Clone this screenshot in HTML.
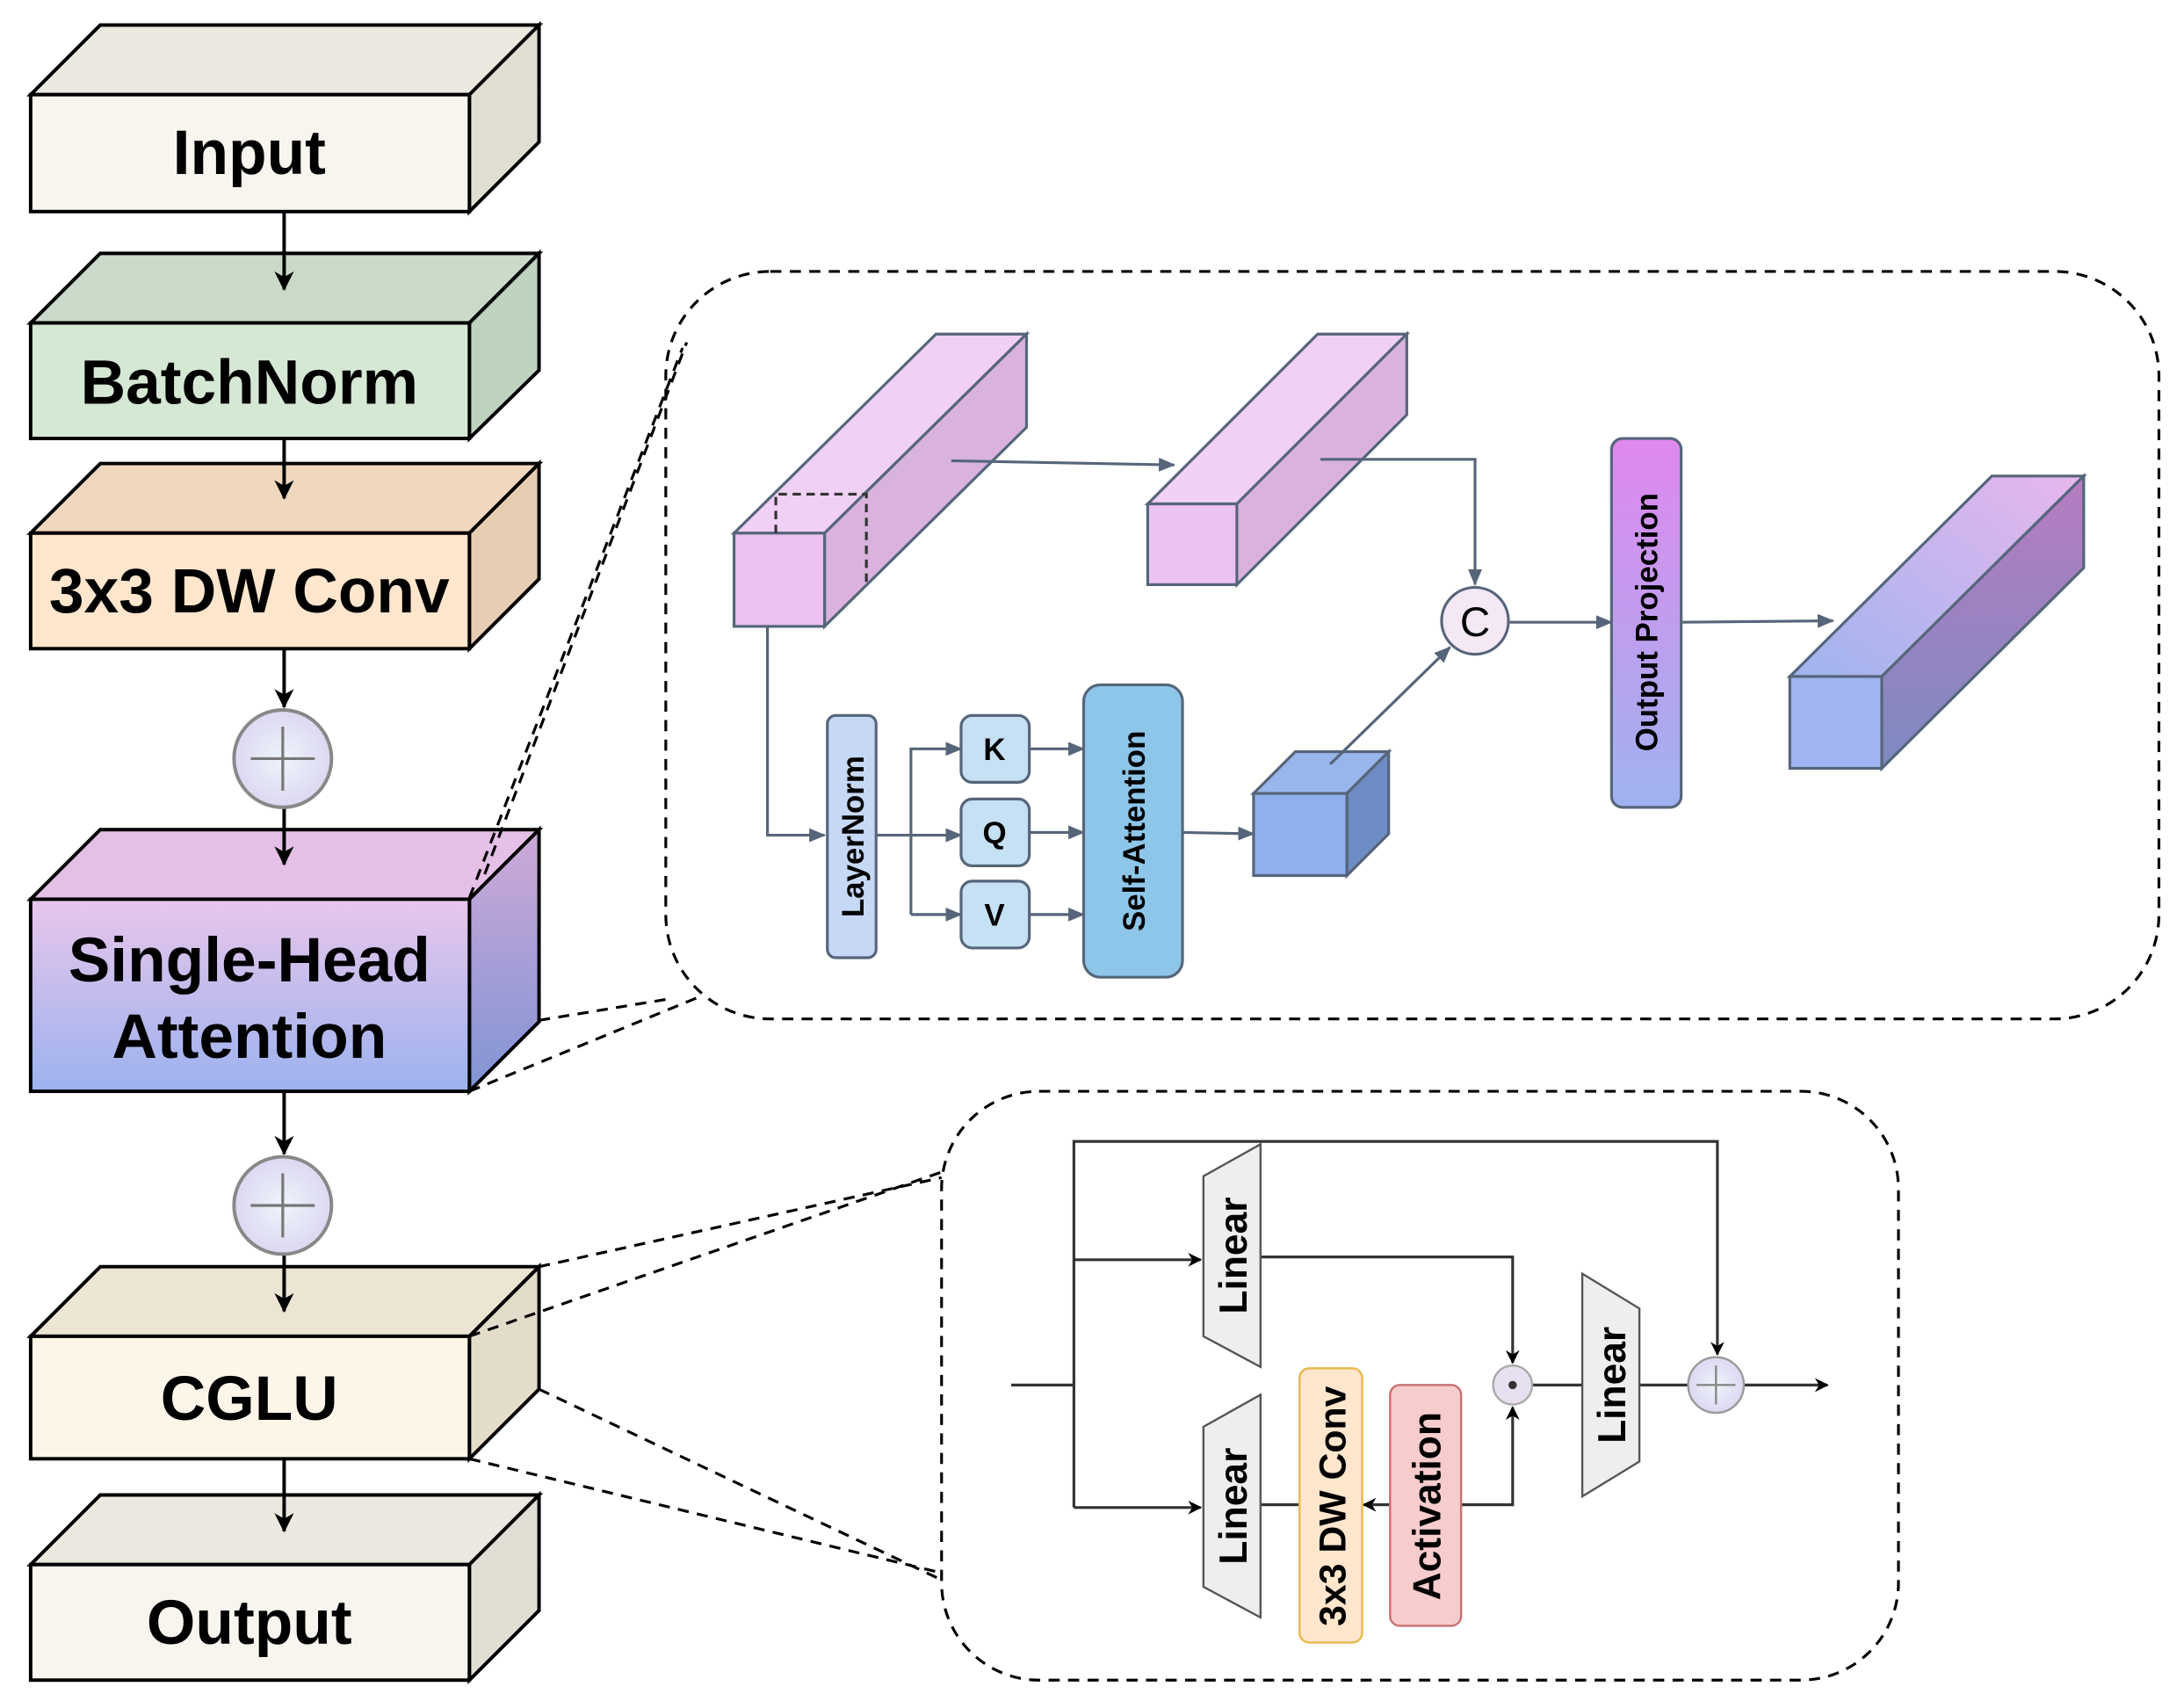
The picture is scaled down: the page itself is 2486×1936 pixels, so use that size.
<!DOCTYPE html>
<html><head><meta charset="utf-8"><style>html,body{margin:0;padding:0;background:#fff}svg{display:block}</style></head><body>
<svg width="2486" height="1936" viewBox="0 0 1568 1222" preserveAspectRatio="none" xmlns="http://www.w3.org/2000/svg" font-family="Liberation Sans, sans-serif">
<defs>
<marker id="a" markerWidth="10" markerHeight="10" refX="9" refY="5" orient="auto" markerUnits="userSpaceOnUse"><path d="M0,0 L10,5 L0,10 L3,5z" fill="#000"/></marker>
<marker id="g" markerWidth="12" markerHeight="10" refX="11" refY="5" orient="auto" markerUnits="userSpaceOnUse"><path d="M0,0 L12,5 L0,10z" fill="#56657a"/></marker>
<marker id="b" markerWidth="14" markerHeight="14" refX="13" refY="7" orient="auto" markerUnits="userSpaceOnUse"><path d="M0,0 L14,7 L0,14 L4,7z" fill="#000"/></marker>
<linearGradient id="sha" x1="0" y1="0" x2="0" y2="1"><stop offset="0" stop-color="#e8c6ec"/><stop offset="1" stop-color="#9cb2ee"/></linearGradient>
<linearGradient id="shaS" x1="0" y1="0" x2="0" y2="1"><stop offset="0" stop-color="#cfa9d8"/><stop offset="1" stop-color="#8094d4"/></linearGradient>
<linearGradient id="out" x1="0" y1="1" x2="1" y2="0"><stop offset="0" stop-color="#9fb4ee"/><stop offset="1" stop-color="#e8b6ee"/></linearGradient>
<linearGradient id="outS" x1="0" y1="1" x2="0" y2="0"><stop offset="0" stop-color="#7d8ac0"/><stop offset="1" stop-color="#b77cc0"/></linearGradient>
<linearGradient id="op" x1="0" y1="0" x2="0" y2="1"><stop offset="0" stop-color="#e088ee"/><stop offset="1" stop-color="#9fb2f0"/></linearGradient>
<radialGradient id="pl"><stop offset="0" stop-color="#eef4fa"/><stop offset="1" stop-color="#dcd8f2"/></radialGradient>
</defs>
<g stroke="#000" stroke-width="2.5">
<path d="M22,68 L72,18 L387,18 L337,68z" fill="#ebe8df"/><path d="M337,68 L387,18 L387,102 L337,152z" fill="#e0ddd3"/><rect x="22" y="68" width="315" height="84" fill="#f7f5ee"/>
<path d="M22,232 L72,182 L387,182 L337,232z" fill="#c9dac9"/><path d="M337,232 L387,182 L387,266 L337,315z" fill="#bfd1bf"/><rect x="22" y="232" width="315" height="83" fill="#d5e8d4"/>
<path d="M22,383 L72,333 L387,333 L337,383z" fill="#f0d8bf"/><path d="M337,383 L387,333 L387,416 L337,466z" fill="#e6ccb1"/><rect x="22" y="383" width="315" height="83" fill="#ffe6cc"/>
<path d="M22,646 L72,596 L387,596 L337,646z" fill="#e4c0e6"/><path d="M337,646 L387,596 L387,734 L337,784z" fill="url(#shaS)"/><rect x="22" y="646" width="315" height="138" fill="url(#sha)"/>
<path d="M22,960 L72,910 L387,910 L337,960z" fill="#ede5d4"/><path d="M337,960 L387,910 L387,998 L337,1048z" fill="#e3dccb"/><rect x="22" y="960" width="315" height="88" fill="#fdf6e8"/>
<path d="M22,1124 L72,1074 L387,1074 L337,1124z" fill="#ebe8df"/><path d="M337,1124 L387,1074 L387,1157 L337,1207z" fill="#e0ddd3"/><rect x="22" y="1124" width="315" height="83" fill="#f7f5ee"/>
</g>
<g font-weight="bold" font-size="45" text-anchor="middle" fill="#000">
<text x="179" y="125">Input</text><text x="179" y="290">BatchNorm</text><text x="179" y="440">3x3 DW Conv</text>
<text x="179" y="705">Single-Head</text><text x="179" y="760">Attention</text><text x="179" y="1020">CGLU</text><text x="179" y="1181">Output</text>
</g>
<g stroke="#000" stroke-width="2.5" fill="none">
<line x1="204" y1="152" x2="204" y2="208" marker-end="url(#b)"/><line x1="204" y1="315" x2="204" y2="358" marker-end="url(#b)"/>
<line x1="204" y1="466" x2="204" y2="508" marker-end="url(#b)"/><line x1="204" y1="580" x2="204" y2="621" marker-end="url(#b)"/>
<line x1="204" y1="784" x2="204" y2="829" marker-end="url(#b)"/><line x1="204" y1="900" x2="204" y2="942" marker-end="url(#b)"/>
<line x1="204" y1="1048" x2="204" y2="1100" marker-end="url(#b)"/>
</g>
<g stroke="#888" stroke-width="2.5"><circle cx="203" cy="545" r="35" fill="url(#pl)"/><circle cx="203" cy="866" r="35" fill="url(#pl)"/></g>
<g stroke="#777" stroke-width="2"><path d="M180,545h46M203,522v46M180,866h46M203,843v46"/></g>
<g stroke="#000" stroke-width="2" stroke-dasharray="8,6" fill="none">
<rect x="478" y="195" width="1072" height="537" rx="75"/>
<rect x="676" y="784" width="687" height="423" rx="70"/>
<path d="M337,645 L490,250 M348,628 L493,246 M337,784 L500,717 M387,733 L478,718"/>
<path d="M337,960 L676,842 M387,910 L676,846 M387,998 L676,1135 M337,1048 L676,1130"/>
</g>
<g stroke="#56657a" stroke-width="2">
<path d="M527,383 L672,240 L737,240 L592,383z" fill="#f0d0f4"/><path d="M592,383 L737,240 L737,307 L592,450z" fill="#d9b3de"/><rect x="527" y="383" width="65" height="67" fill="#ecc2f2"/>
<path d="M824,362 L946,240 L1010,240 L888,362z" fill="#f0d0f4"/><path d="M888,362 L1010,240 L1010,298 L888,420z" fill="#d9b3de"/><rect x="824" y="362" width="64" height="58" fill="#ecc2f2"/>
<path d="M1285,486 L1430,342 L1496,342 L1351,486z" fill="url(#out)"/><path d="M1351,486 L1496,342 L1496,408 L1351,552z" fill="url(#outS)"/><rect x="1285" y="486" width="66" height="66" fill="#9fb4f0"/>
<path d="M900,570 L930,540 L997,540 L967,570z" fill="#98b6ec"/><path d="M967,570 L997,540 L997,599 L967,629z" fill="#6d8cc4"/><rect x="900" y="570" width="67" height="59" fill="#8fb0ec"/>
</g>
<path d="M557,383 V355 H622 V420" stroke="#333" stroke-width="2" stroke-dasharray="6,4" fill="none"/>
<g stroke="#56657a" stroke-width="2" fill="none">
<line x1="683" y1="331" x2="843" y2="334" marker-end="url(#g)"/>
<path d="M948,330 H1059 V420" marker-end="url(#g)"/>
<line x1="1084" y1="447" x2="1157" y2="447" marker-end="url(#g)"/>
<line x1="1207" y1="447" x2="1316" y2="446" marker-end="url(#g)"/>
<path d="M551,450 V600 H592" marker-end="url(#g)"/>
<line x1="629" y1="600" x2="690" y2="600" marker-end="url(#g)"/>
<path d="M654,657 V538 H690" marker-end="url(#g)"/><path d="M654,657 H690" marker-end="url(#g)"/>
<line x1="739" y1="538" x2="778" y2="538" marker-end="url(#g)"/><line x1="739" y1="598" x2="778" y2="598" marker-end="url(#g)"/><line x1="739" y1="657" x2="778" y2="657" marker-end="url(#g)"/>
<line x1="849" y1="598" x2="900" y2="599" marker-end="url(#g)"/>
<line x1="955" y1="549" x2="1041" y2="465" marker-end="url(#g)"/>
</g>
<g stroke="#56657a" stroke-width="2">
<rect x="594" y="514" width="35" height="174" rx="6" fill="#c6d8f6"/>
<rect x="690" y="514" width="49" height="48" rx="8" fill="#c6e0f4"/><rect x="690" y="574" width="49" height="48" rx="8" fill="#c6e0f4"/><rect x="690" y="633" width="49" height="48" rx="8" fill="#c6e0f4"/>
<rect x="778" y="492" width="71" height="210" rx="12" fill="#8ec6ea"/>
<rect x="1157" y="315" width="50" height="265" rx="8" fill="url(#op)"/>
<circle cx="1059" cy="446" r="24" fill="#f4e8f4"/>
</g>
<g font-weight="bold" fill="#000" text-anchor="middle">
<text x="714" y="546" font-size="22">K</text><text x="714" y="606" font-size="22">Q</text><text x="714" y="665" font-size="22">V</text>
<text transform="translate(620,601) rotate(-90)" font-size="22">LayerNorm</text>
<text transform="translate(822,597) rotate(-90)" font-size="22">Self-Attention</text>
<text transform="translate(1190,447) rotate(-90)" font-size="22">Output Projection</text>
<text x="1059" y="457" font-size="30" font-weight="normal">C</text>
</g>
<g stroke="#333" stroke-width="2" fill="none">
<line x1="726" y1="995" x2="771" y2="995"/>
<path d="M771,1083 V820 H1233 V973" marker-end="url(#a)"/>
<line x1="771" y1="905" x2="862" y2="905" marker-end="url(#a)"/>
<line x1="771" y1="1083" x2="862" y2="1083" marker-end="url(#a)"/>
<path d="M905,903 H1086 V979" marker-end="url(#a)"/>
<path d="M1049,1081 H1086 V1011" marker-end="url(#a)"/>
<line x1="998" y1="1081" x2="979" y2="1081" marker-end="url(#a)"/>
<line x1="933" y1="1081" x2="905" y2="1081"/>
<line x1="1100" y1="995" x2="1136" y2="995"/><line x1="1177" y1="995" x2="1212" y2="995"/>
<line x1="1252" y1="995" x2="1312" y2="995" marker-end="url(#a)"/>
</g>
<g stroke="#555" stroke-width="1.5">
<path d="M864,845 L905,822 L905,982 L864,960z" fill="#eeeeee"/>
<path d="M864,1025 L905,1002 L905,1162 L864,1140z" fill="#eeeeee"/>
<path d="M1136,915 L1177,940 L1177,1050 L1136,1075z" fill="#eeeeee"/>
<rect x="933" y="983" width="45" height="197" rx="7" fill="#ffe6cc" stroke="#e8b84a"/>
<rect x="998" y="995" width="51" height="173" rx="7" fill="#f6cccc" stroke="#c87070"/>
<circle cx="1086" cy="995" r="14" fill="#e8e0f0" stroke="#aaa"/>
<circle cx="1232" cy="995" r="20" fill="url(#pl)" stroke="#999"/>
</g>
<circle cx="1086" cy="995" r="3" fill="#333"/>
<path d="M1218,995h28M1232,981v28" stroke="#888" stroke-width="1.5"/>
<g font-weight="bold" fill="#000" text-anchor="middle" font-size="28">
<text transform="translate(895,902) rotate(-90)">Linear</text>
<text transform="translate(895,1082) rotate(-90)">Linear</text>
<text transform="translate(1167,995) rotate(-90)">Linear</text>
<text transform="translate(966,1082) rotate(-90)" font-size="27">3x3 DW Conv</text>
<text transform="translate(1034,1082) rotate(-90)" font-size="28">Activation</text>
</g>
</svg>
</body></html>
